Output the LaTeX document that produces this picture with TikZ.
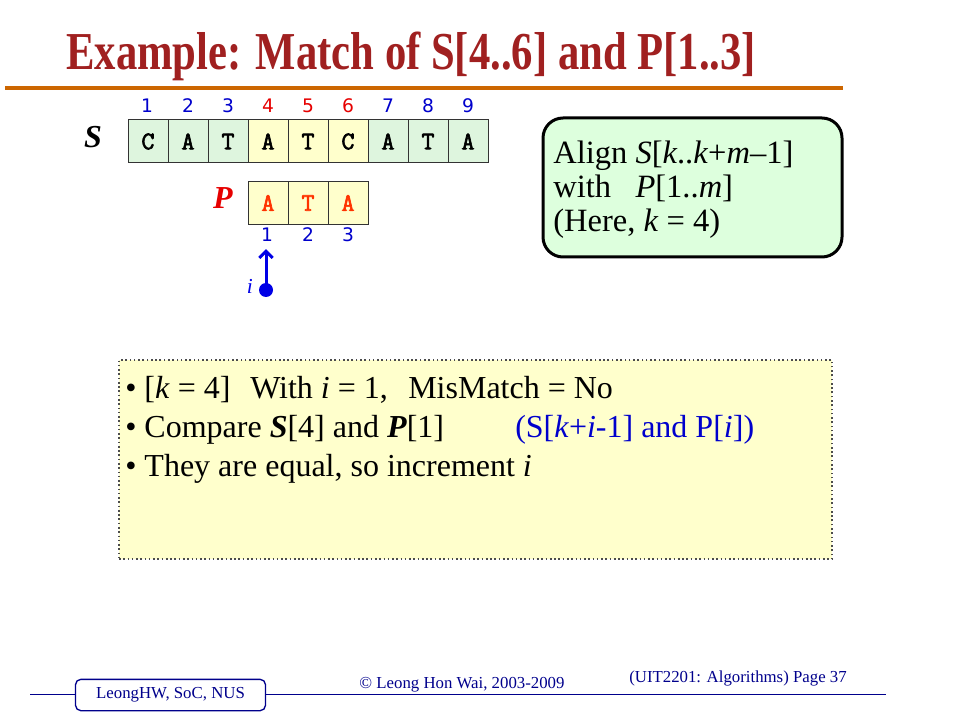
\documentclass[tikz,border=0pt]{standalone}
\usepackage{fontspec}
\usepackage{graphicx}
\usetikzlibrary{arrows.meta}
\setmainfont{Liberation Serif}
\newfontfamily\idxfont{DejaVu Sans}
\newfontfamily\cellfont{Latin Modern Mono}[FakeBold=2.5]
\definecolor{titlered}{RGB}{160,32,32}
\definecolor{ruleorange}{RGB}{204,102,0}
\definecolor{cellgreen}{RGB}{222,245,222}
\definecolor{cellyellow}{RGB}{255,255,204}
\definecolor{idxblue}{RGB}{0,0,204}
\definecolor{idxred}{RGB}{230,0,0}
\definecolor{patred}{RGB}{255,51,0}
\definecolor{ptrblue}{RGB}{0,0,230}
\definecolor{boxgreen}{RGB}{221,255,221}
\definecolor{noteyellow}{RGB}{255,255,204}
\definecolor{footblue}{RGB}{0,0,140}
\tikzset{
  scell/.style={draw=black!80, line width=0.75pt, minimum width=30pt, minimum height=32.25pt,
    inner sep=0pt, font=\fontsize{19}{19}\selectfont\cellfont},
  gcell/.style={scell, fill=cellgreen},
  ycell/.style={scell, fill=cellyellow},
  idx/.style={anchor=base, font=\fontsize{14}{14}\selectfont\idxfont},
  line/.style={anchor=base west, inner sep=0pt, font=\fontsize{24}{28}\selectfont},
  foot/.style={anchor=base, inner sep=0pt, text=footblue, font=\fontsize{12.6}{13}\selectfont}
}
\begin{document}
\begin{tikzpicture}[x=0.75pt,y=-0.75pt]
\useasboundingbox (0,0) rectangle (960,720);
% title
\node [anchor=base west, inner sep=0pt, text=titlered] (title) at (66,70)
  {\scalebox{0.8}[1]{\fontsize{40}{40}\selectfont\bfseries Example: Match of S[4..6] and P[1..3]}};
\draw [ruleorange, line width=3pt] (5,88) -- (843,88);
% text S
\node [font=\fontsize{24}{24}\selectfont\bfseries\itshape] (slabel) at (93,137) {S};
\node [gcell] (s1) at (148,141.5) {C};
\node [gcell] (s2) at (188,141.5) {A};
\node [gcell] (s3) at (228,141.5) {T};
\node [ycell] (s4) at (268,141.5) {A};
\node [ycell] (s5) at (308,141.5) {T};
\node [ycell] (s6) at (348,141.5) {C};
\node [gcell] (s7) at (388,141.5) {A};
\node [gcell] (s8) at (428,141.5) {T};
\node [gcell] (s9) at (468,141.5) {A};
\node [idx, text=idxblue] (sn1) at (147,113) {1};
\node [idx, text=idxblue] (sn2) at (188,113) {2};
\node [idx, text=idxblue] (sn3) at (228,113) {3};
\node [idx, text=idxred] (sn4) at (268,113) {4};
\node [idx, text=idxred] (sn5) at (308,113) {5};
\node [idx, text=idxred] (sn6) at (348,113) {6};
\node [idx, text=idxblue] (sn7) at (388,113) {7};
\node [idx, text=idxblue] (sn8) at (428,113) {8};
\node [idx, text=idxblue] (sn9) at (468,113) {9};
% pattern P
\node [text=idxred, font=\fontsize{24}{24}\selectfont\bfseries\itshape] (plabel) at (223,198) {P};
\node [ycell, text=patred] (p1) at (268,203) {A};
\node [ycell, text=patred] (p2) at (308,203) {T};
\node [ycell, text=patred] (p3) at (348,203) {A};
\node [idx, text=idxblue] (pn1) at (267,241.7) {1};
\node [idx, text=idxblue] (pn2) at (308,241.7) {2};
\node [idx, text=idxblue] (pn3) at (348,241.7) {3};
% pointer i
\coordinate (idot) at (266,290);
\fill [ptrblue] (idot) circle (5.25pt);
\draw [ptrblue, line width=2.25pt, -{Straight Barb[length=5pt,width=10pt]}, shorten >=2pt]
  (idot) -- (idot |- pn1.south);
\node [anchor=base east, inner sep=0pt, text=ptrblue, font=\fontsize{16}{16}\selectfont\itshape] (ilabel) at (253,293) {i};
% align box
\node [draw, line width=2.25pt, rounded corners=15pt, fill=boxgreen, minimum width=224.25pt,
  minimum height=104.25pt] (align) at (692.5,187.5) {};
\node [anchor=west, inner sep=0pt, align=left, font=\fontsize{24.4}{25.5}\selectfont]
  (aligntext) at (553,190)
  {Align \textit{S}[\textit{k}..\textit{k}+\textit{m}–1]\\with\ \ \ \textit{P}[1..\textit{m}]\\(Here, \textit{k} = 4)};
% note box
\node [draw=black!70, dotted, line width=1.2pt, fill=noteyellow, minimum width=534.75pt,
  minimum height=149.25pt, inner sep=0pt] (note) at (475.5,459.5) {};
\node [line] (l1a) at (125,398) {• [\textit{k} = 4]};
\node [line] (l1b) at (250,398) {With \textit{i} = 1,};
\node [line] (l1c) at (408,398) {MisMatch = No};
\node [line] (l2a) at (125,437) {• Compare \textbf{\textit{S}}[4] and \textbf{\textit{P}}[1]};
\node [line, text=idxblue] (l2b) at (515,437) {(S[\textit{k}+\textit{i}-1] and P[\textit{i}])};
\node [line] (l3) at (125,476) {• They are equal, so increment \textit{i}};
% footer
\draw [footblue, line width=1.2pt] (30,694.3) -- (886,694.3);
\node [draw=footblue, fill=white, rounded corners=4pt, line width=1pt, minimum width=142.5pt,
  minimum height=23.5pt, text=footblue, font=\fontsize{12.6}{13}\selectfont] (school) at (170.5,695) {LeongHW, SoC, NUS};
\node [foot] (copy) at (462,688) {© Leong Hon Wai, 2003-2009};
\node [foot] (page) at (738,682) {(UIT2201: Algorithms) Page 37};
\end{tikzpicture}
\end{document}
